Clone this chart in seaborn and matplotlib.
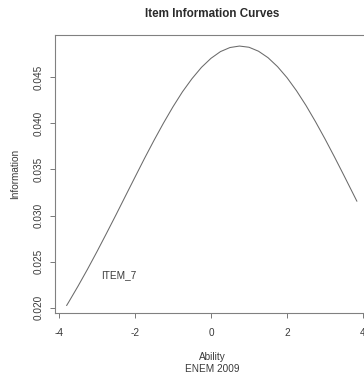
import matplotlib
matplotlib.use("Agg")
import matplotlib.pyplot as plt
import seaborn as sns
import pandas as pd

# Values (ability, information)
ability = [-3.80, -3.75, -3.50, -3.25, -3.00, -2.75, -2.50, -2.25, -2.00, -1.75,
           -1.50, -1.25, -1.00, -0.75, -0.50, -0.25, 0.00, 0.25, 0.50, 0.75,
           1.00, 1.25, 1.50, 1.75, 2.00, 2.25, 2.50, 2.75, 3.00, 3.25,
           3.50, 3.75, 3.84]
information = [0.02023, 0.02057, 0.02233, 0.02417, 0.02609, 0.02807, 0.03008, 0.03213,
               0.03417, 0.03620, 0.03816, 0.04004, 0.04181, 0.04344, 0.04486, 0.04609,
               0.04707, 0.04780, 0.04824, 0.04840, 0.04827, 0.04784, 0.04714, 0.04617,
               0.04497, 0.04355, 0.04195, 0.04019, 0.03832, 0.03636, 0.03434, 0.03229,
               0.03155]
x_ticks = [-4, -2, 0, 2, 4]
y_ticks = [0.020, 0.025, 0.030, 0.035, 0.040, 0.045]
y_tick_labels = ["0.020", "0.025", "0.030", "0.035", "0.040", "0.045"]
item_label = "ITEM_7"

sns.set_style("white")
plt.rcParams["font.family"] = ["Liberation Sans", "DejaVu Sans"]

df = pd.DataFrame({"Ability": ability, "Information": information})

fig = plt.figure(figsize=(3.64, 3.76), dpi=100)
ax = fig.add_axes([55 / 364, 62.7 / 376, 314 / 364, 278.3 / 376])

sns.lineplot(data=df, x="Ability", y="Information", ax=ax, color="#6a6a6a",
             linewidth=0.75)

ax.set_xlim(-4.105, 4.158)
ax.set_ylim(0.01939, 0.0496)
ax.set_xticks(x_ticks)
ax.set_xticklabels([str(t) for t in x_ticks])
ax.set_yticks(y_ticks)
ax.set_yticklabels(y_tick_labels, rotation=90, va="center")

txt_col = "#3a3a3a"
ax.tick_params(axis="both", direction="out", length=3.6, width=0.7,
               color="#777777", labelsize=7.2, labelcolor=txt_col)
ax.tick_params(axis="x", pad=7)
ax.tick_params(axis="y", pad=4.5)
ax.xaxis.set_ticks_position("bottom")
ax.yaxis.set_ticks_position("left")

for s in ax.spines.values():
    s.set_color("#808080")
    s.set_linewidth(0.8)
    s.set_visible(True)

ax.set_xlabel("Ability\nENEM 2009", fontsize=7.2, color=txt_col, labelpad=10,
              linespacing=1.25)
ax.set_ylabel("Information", fontsize=7.2, color=txt_col, labelpad=10)
ax.set_title("Item Information Curves", fontsize=8.4, fontweight="bold",
             color="#2a2a2a", pad=13)

ax.text(-2.42, 0.02355, item_label, fontsize=7.2, color=txt_col,
        ha="center", va="center")

fig.savefig("out.png", dpi=100)
